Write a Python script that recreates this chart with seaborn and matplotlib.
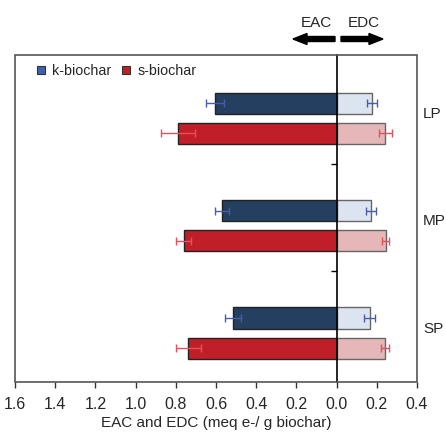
import matplotlib
matplotlib.use("Agg")
import matplotlib.pyplot as plt
import matplotlib.transforms as mtransforms
from matplotlib.patches import Rectangle, FancyArrow
from matplotlib.lines import Line2D
import seaborn as sns
import pandas as pd
import numpy as np

# ---- data ----
groups = ["LP", "MP", "SP"]
types = ["k-biochar", "s-biochar"]
eac_k = [0.605, 0.569, 0.514]
eac_s = [0.788, 0.761, 0.738]
eac_k_err = [0.045, 0.035, 0.040]
eac_s_err = [0.086, 0.036, 0.063]
edc_k = [0.176, 0.171, 0.164]
edc_s = [0.242, 0.244, 0.241]
edc_k_err = [0.025, 0.026, 0.026]
edc_s_err = [0.032, 0.017, 0.018]
xtick_vals = [-1.6, -1.4, -1.2, -1.0, -0.8, -0.6, -0.4, -0.2, 0.0, 0.2, 0.4]

sns.set_style("white")
plt.rcParams["font.family"] = ["Liberation Sans", "DejaVu Sans"]

df = pd.DataFrame({
    "group": groups * 2,
    "type": [types[0]] * 3 + [types[1]] * 3,
    "EAC": [-v for v in eac_k] + [-v for v in eac_s],
    "EDC": edc_k + edc_s,
    "EAC_err": eac_k_err + eac_s_err,
    "EDC_err": edc_k_err + edc_s_err,
})

fig = plt.figure(figsize=(4.46, 4.34), dpi=100)
ax = fig.add_axes([15 / 446, 1 - 382 / 434, (417 - 15) / 446, (382 - 55) / 434])

sns.barplot(data=df, y="group", x="EAC", hue="type", order=groups, hue_order=types,
            palette=["#243f60", "#c01f28"], orient="h", width=0.56, gap=0.3,
            saturation=1, errorbar=None, edgecolor="#222222", linewidth=1.0,
            ax=ax, legend=False)
sns.barplot(data=df, y="group", x="EDC", hue="type", order=groups, hue_order=types,
            palette=["#dce4ef", "#e6b7b8"], orient="h", width=0.56, gap=0.3,
            saturation=1, errorbar=None, edgecolor="#666666", linewidth=1.0,
            ax=ax, legend=False)

# error bars
offsets = {types[0]: -0.14, types[1]: 0.14}
err_colors = {types[0]: "#4b5cb0", types[1]: "#e5505a"}
for t in types:
    sub = df[df["type"] == t]
    ypos = np.arange(len(groups)) + offsets[t]
    for col, ecol in [("EAC", "EAC_err"), ("EDC", "EDC_err")]:
        ax.errorbar(sub[col].values, ypos, xerr=sub[ecol].values, fmt="none",
                    ecolor=err_colors[t], elinewidth=1.0, capsize=3, capthick=1.0, zorder=5)

ax.set_xlim(-1.6, 0.4)
ax.set_ylim(2.456, -0.589)

# frame
for s in ax.spines.values():
    s.set_visible(False)
ax.spines["left"].set_visible(True)
ax.spines["left"].set_position(("data", 0))
ax.spines["left"].set_color("black")
ax.spines["left"].set_linewidth(1.2)
ax.spines["left"].set_zorder(6)
ax.add_patch(Rectangle((0, 0), 1, 1, transform=ax.transAxes, fill=False,
                       edgecolor="#555555", linewidth=1.2, zorder=7, clip_on=False))

ax.set_yticks([0.428, 1.42])
ax.set_yticklabels(["", ""])
ax.tick_params(axis="y", direction="out", length=4, width=1, color="black", left=True)

ax.set_xticks(xtick_vals)
ax.set_xticklabels([f"{abs(v):.1f}" for v in xtick_vals], fontsize=11.5)
ax.tick_params(axis="x", direction="out", length=4, width=1, color="#333333", bottom=True, pad=7)
ax.set_xlabel("EAC and EDC (meq e-/ g biochar)", fontsize=11, labelpad=3)
ax.set_ylabel("")

# group labels on the right
trans = mtransforms.blended_transform_factory(ax.transAxes, ax.transData)
for i, g in enumerate(groups):
    ax.text(1.015, i - 0.04, g, transform=trans, ha="left", va="center", fontsize=11)

# legend
handles = [Line2D([], [], marker="s", linestyle="none", markersize=6,
                  markerfacecolor=c, markeredgecolor="#333333", markeredgewidth=0.8)
           for c in ["#3c62ad", "#c01f28"]]
ax.legend(handles, types, loc="upper left", bbox_to_anchor=(0.025, 1.0), ncol=2,
          frameon=False, fontsize=10.3, handletextpad=0.3, columnspacing=0.5,
          handlelength=1.0, borderaxespad=0.2)

# EAC / EDC header with arrows
fig.text(316 / 446, 1 - 23 / 434, "EAC", ha="center", va="center", fontsize=11)
fig.text(364 / 446, 1 - 23 / 434, "EDC", ha="center", va="center", fontsize=11)
fig.patches.append(FancyArrow(335 / 446, 1 - 39 / 434, -42 / 446, 0, width=5 / 434,
                              head_width=11 / 434, head_length=14 / 446,
                              length_includes_head=True, color="black",
                              transform=fig.transFigure, figure=fig))
fig.patches.append(FancyArrow(341 / 446, 1 - 39 / 434, 42 / 446, 0, width=5 / 434,
                              head_width=11 / 434, head_length=14 / 446,
                              length_includes_head=True, color="black",
                              transform=fig.transFigure, figure=fig))

fig.savefig("out.png", dpi=100)
